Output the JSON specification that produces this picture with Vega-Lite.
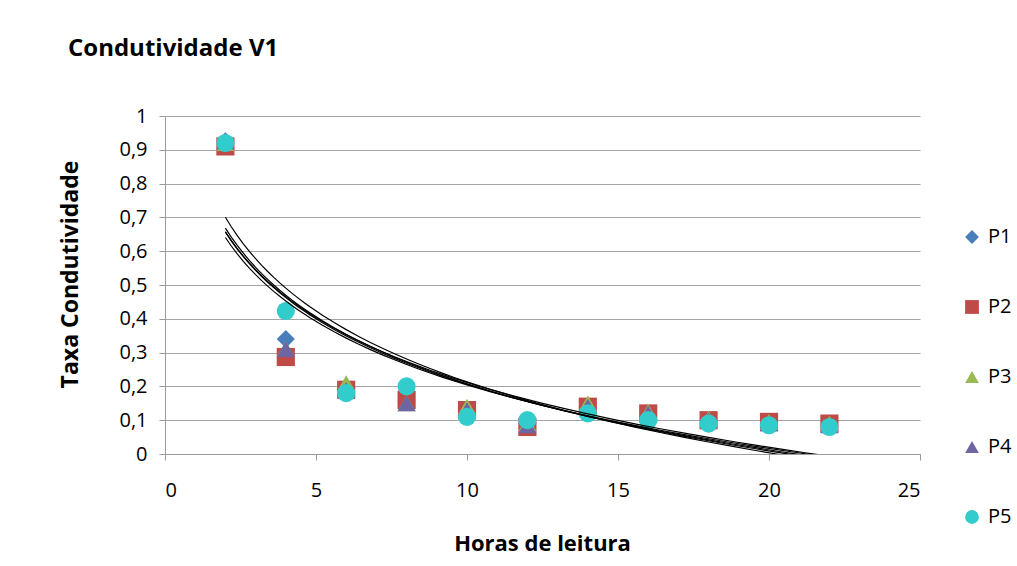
{
  "$schema": "https://vega.github.io/schema/vega-lite/v6.json",
  "width": 755,
  "height": 338,
  "autosize": "none",
  "padding": {"left": 165, "top": 116, "right": 97, "bottom": 112},
  "background": "white",
  "config": {
    "font": "Open Sans",
    "view": {"stroke": null},
    "axis": {"labelColor": "black", "titleColor": "black", "labelFont": "Open Sans", "titleFont": "Open Sans"}
  },
  "title": {
    "text": "Condutividade V1",
    "anchor": "start",
    "frame": "group",
    "dx": -97,
    "offset": 45,
    "font": "Open Sans",
    "fontSize": 24,
    "fontWeight": "bold",
    "color": "black"
  },
  "data": {
    "values": [
      {"serie": "P1", "hora": 2, "taxa": 0.925},
      {"serie": "P1", "hora": 4, "taxa": 0.34},
      {"serie": "P1", "hora": 6, "taxa": 0.19},
      {"serie": "P1", "hora": 8, "taxa": 0.16},
      {"serie": "P1", "hora": 10, "taxa": 0.12},
      {"serie": "P1", "hora": 12, "taxa": 0.09},
      {"serie": "P1", "hora": 14, "taxa": 0.13},
      {"serie": "P1", "hora": 16, "taxa": 0.11},
      {"serie": "P1", "hora": 18, "taxa": 0.1},
      {"serie": "P1", "hora": 20, "taxa": 0.09},
      {"serie": "P1", "hora": 22, "taxa": 0.085},
      {"serie": "P2", "hora": 2, "taxa": 0.91},
      {"serie": "P2", "hora": 4, "taxa": 0.287},
      {"serie": "P2", "hora": 6, "taxa": 0.19},
      {"serie": "P2", "hora": 8, "taxa": 0.16},
      {"serie": "P2", "hora": 10, "taxa": 0.13},
      {"serie": "P2", "hora": 12, "taxa": 0.08},
      {"serie": "P2", "hora": 14, "taxa": 0.14},
      {"serie": "P2", "hora": 16, "taxa": 0.12},
      {"serie": "P2", "hora": 18, "taxa": 0.1},
      {"serie": "P2", "hora": 20, "taxa": 0.095},
      {"serie": "P2", "hora": 22, "taxa": 0.09},
      {"serie": "P3", "hora": 2, "taxa": 0.92},
      {"serie": "P3", "hora": 4, "taxa": 0.31},
      {"serie": "P3", "hora": 6, "taxa": 0.21},
      {"serie": "P3", "hora": 8, "taxa": 0.15},
      {"serie": "P3", "hora": 10, "taxa": 0.14},
      {"serie": "P3", "hora": 12, "taxa": 0.09},
      {"serie": "P3", "hora": 14, "taxa": 0.15},
      {"serie": "P3", "hora": 16, "taxa": 0.125},
      {"serie": "P3", "hora": 18, "taxa": 0.105},
      {"serie": "P3", "hora": 20, "taxa": 0.095},
      {"serie": "P3", "hora": 22, "taxa": 0.09},
      {"serie": "P4", "hora": 2, "taxa": 0.925},
      {"serie": "P4", "hora": 4, "taxa": 0.31},
      {"serie": "P4", "hora": 6, "taxa": 0.19},
      {"serie": "P4", "hora": 8, "taxa": 0.15},
      {"serie": "P4", "hora": 10, "taxa": 0.13},
      {"serie": "P4", "hora": 12, "taxa": 0.085},
      {"serie": "P4", "hora": 14, "taxa": 0.14},
      {"serie": "P4", "hora": 16, "taxa": 0.12},
      {"serie": "P4", "hora": 18, "taxa": 0.1},
      {"serie": "P4", "hora": 20, "taxa": 0.09},
      {"serie": "P4", "hora": 22, "taxa": 0.085},
      {"serie": "P5", "hora": 2, "taxa": 0.92},
      {"serie": "P5", "hora": 4, "taxa": 0.423},
      {"serie": "P5", "hora": 6, "taxa": 0.18},
      {"serie": "P5", "hora": 8, "taxa": 0.2},
      {"serie": "P5", "hora": 10, "taxa": 0.11},
      {"serie": "P5", "hora": 12, "taxa": 0.1},
      {"serie": "P5", "hora": 14, "taxa": 0.12},
      {"serie": "P5", "hora": 16, "taxa": 0.1},
      {"serie": "P5", "hora": 18, "taxa": 0.09},
      {"serie": "P5", "hora": 20, "taxa": 0.085},
      {"serie": "P5", "hora": 22, "taxa": 0.08}
    ]
  },
  "encoding": {
    "x": {
      "field": "hora",
      "type": "quantitative",
      "scale": {"domain": [0, 25], "nice": false},
      "axis": {
        "values": [0, 5, 10, 15, 20, 25],
        "grid": false,
        "domainColor": "#9a9a9a",
        "tickColor": "#9a9a9a",
        "tickSize": 6,
        "labelFontSize": 20,
        "labelPadding": 20,
        "labelOverlap": false,
        "title": "Horas de leitura",
        "titleFontSize": 22,
        "titleFontWeight": "bold",
        "titlePadding": 33,
        "titleX": 377
      }
    },
    "y": {
      "field": "taxa",
      "type": "quantitative",
      "scale": {"domain": [0, 1], "nice": false},
      "axis": {
        "values": [0, 0.1, 0.2, 0.3, 0.4, 0.5, 0.6, 0.7, 0.8, 0.9, 1],
        "labelExpr": "replace(format(datum.value, '.1~f'), '.', ',')",
        "labelOverlap": false,
        "grid": true,
        "gridColor": "#a6a6a6",
        "gridWidth": 1.2,
        "domainColor": "#9a9a9a",
        "tickColor": "#9a9a9a",
        "tickSize": 6,
        "labelFontSize": 20,
        "labelPadding": 12,
        "title": "Taxa Condutividade",
        "titleFontSize": 23,
        "titleFontWeight": "bold",
        "titlePadding": 36,
        "titleY": 158
      }
    }
  },
  "layer": [
    {
      "mark": {"type": "point", "filled": true, "size": 330, "opacity": 1},
      "encoding": {
        "color": {
          "field": "serie",
          "type": "nominal",
          "scale": {
            "domain": ["P1", "P2", "P3", "P4", "P5"],
            "range": ["#4a7ebb", "#be4b48", "#98b954", "#6e66a3", "#33cccc"]
          },
          "legend": {
            "title": null,
            "orient": "none",
            "legendX": 797,
            "legendY": 111,
            "padding": 0,
            "labelFontSize": 20,
            "labelColor": "black",
            "labelFont": "Open Sans",
            "symbolSize": 190,
            "symbolOpacity": 1,
            "rowPadding": 50,
            "labelOffset": 6
          }
        },
        "shape": {
          "field": "serie",
          "type": "nominal",
          "scale": {
            "domain": ["P1", "P2", "P3", "P4", "P5"],
            "range": ["diamond", "square", "triangle-up", "triangle-up", "circle"]
          }
        }
      }
    },
    {
      "transform": [
        {"regression": "taxa", "on": "hora", "groupby": ["serie"], "method": "log", "extent": [2, 22]}
      ],
      "mark": {"type": "line", "color": "black", "strokeWidth": 1.2, "clip": true},
      "encoding": {
        "detail": {"field": "serie", "type": "nominal"}
      }
    }
  ]
}
